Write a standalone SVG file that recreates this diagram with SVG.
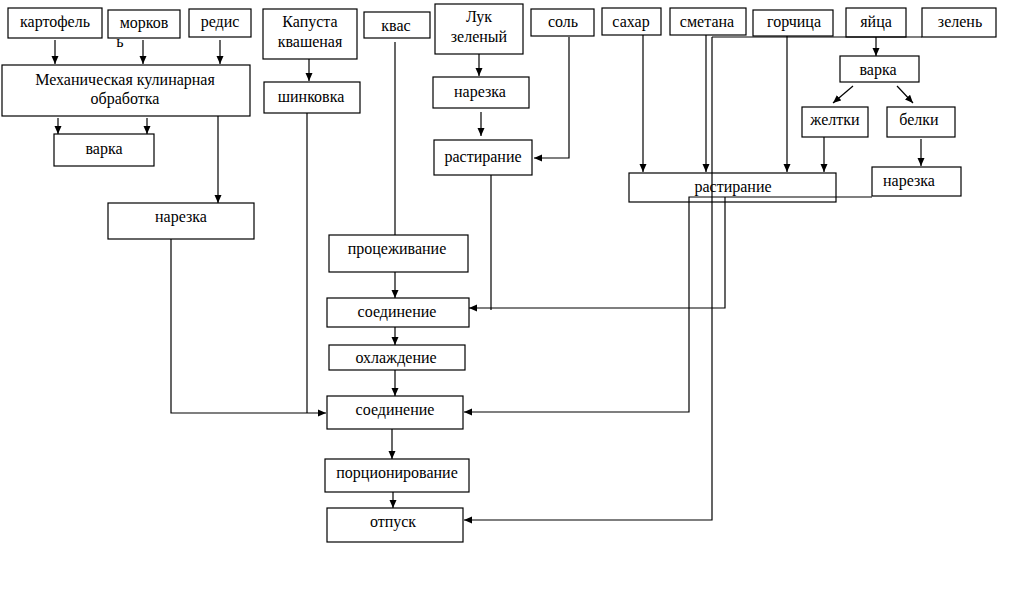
<svg xmlns="http://www.w3.org/2000/svg" width="1011" height="606" viewBox="0 0 1011 606">
<style>
.b{fill:#fff;stroke:#000;stroke-width:1.2}
.t{font-family:"Liberation Serif","Times New Roman","DejaVu Serif",serif;font-size:16px;fill:#000;text-anchor:middle}
.c{fill:none;stroke:#000;stroke-width:1.2}
.a{marker-end:url(#ar)}
</style>
<defs>
<marker id="ar" markerWidth="8" markerHeight="8" refX="8" refY="4" orient="auto" markerUnits="userSpaceOnUse">
<path d="M0,0.5 L8,4 L0,7.5 Z" fill="#000"/>
</marker>
</defs>
<rect width="1011" height="606" fill="#fff"/>
<g id="kartofel"><rect class="b" x="8" y="8" width="94" height="30"/><text class="t" x="55" y="27">картофель</text></g>
<g id="morkov"><rect class="b" x="108" y="10" width="72" height="28"/><text class="t" x="144" y="28">морков</text><text class="t" x="120" y="47">ь</text></g>
<g id="redis"><rect class="b" x="189" y="9" width="62" height="28"/><text class="t" x="220" y="27">редис</text></g>
<g id="mech"><rect class="b" x="2" y="65" width="248" height="51"/><text class="t" x="125" y="85">Механическая кулинарная</text><text class="t" x="125" y="104">обработка</text></g>
<g id="varka1"><rect class="b" x="54" y="134" width="100" height="32"/><text class="t" x="104" y="154">варка</text></g>
<g id="narezka1"><rect class="b" x="108" y="203" width="146" height="36"/><text class="t" x="181" y="222">нарезка</text></g>
<g id="kapusta"><rect class="b" x="263" y="9" width="94" height="50"/><text class="t" x="310" y="27">Капуста</text><text class="t" x="310" y="47">квашеная</text></g>
<g id="shinkovka"><rect class="b" x="264" y="82" width="96" height="31"/><text class="t" x="311" y="102">шинковка</text></g>
<g id="kvas"><rect class="b" x="364" y="12" width="66" height="26"/><text class="t" x="396" y="31">квас</text></g>
<g id="luk"><rect class="b" x="435" y="4" width="88" height="50"/><text class="t" x="479" y="22">Лук</text><text class="t" x="479" y="42">зеленый</text></g>
<g id="narezka2"><rect class="b" x="433" y="77" width="96" height="31"/><text class="t" x="480" y="97">нарезка</text></g>
<g id="rastiranie1"><rect class="b" x="434" y="140" width="98" height="35"/><text class="t" x="483" y="162">растирание</text></g>
<g id="sol"><rect class="b" x="531" y="9" width="63" height="27"/><text class="t" x="563" y="27">соль</text></g>
<g id="sahar"><rect class="b" x="602" y="8" width="59" height="27"/><text class="t" x="631" y="27">сахар</text></g>
<g id="smetana"><rect class="b" x="670" y="8" width="76" height="27"/><text class="t" x="707" y="27">сметана</text></g>
<g id="gorchica"><rect class="b" x="753" y="10" width="80" height="26"/><text class="t" x="794" y="27">горчица</text></g>
<g id="yaica"><rect class="b" x="846" y="8" width="60" height="29"/><text class="t" x="876" y="27">яйца</text></g>
<g id="zelen"><rect class="b" x="922" y="8" width="74" height="29"/><text class="t" x="960" y="27">зелень</text></g>
<g id="varka2"><rect class="b" x="840" y="56" width="79" height="26"/><text class="t" x="878" y="75">варка</text></g>
<g id="zheltki"><rect class="b" x="802" y="107" width="66" height="30"/><text class="t" x="835" y="125">желтки</text></g>
<g id="belki"><rect class="b" x="887" y="107" width="68" height="30"/><text class="t" x="919" y="125">белки</text></g>
<g id="narezka3"><rect class="b" x="872" y="167" width="89" height="29"/><text class="t" x="909" y="186">нарезка</text></g>
<g id="rastiranie2"><rect class="b" x="629" y="173" width="207" height="29"/><text class="t" x="733" y="192">растирание</text></g>
<g id="procezhivanie"><rect class="b" x="329" y="235" width="139" height="37"/><text class="t" x="397" y="254">процеживание</text></g>
<g id="soedinenie1"><rect class="b" x="327" y="298" width="142" height="29"/><text class="t" x="397" y="317">соединение</text></g>
<g id="ohlazhdenie"><rect class="b" x="329" y="345" width="136" height="25"/><text class="t" x="396" y="363">охлаждение</text></g>
<g id="soedinenie2"><rect class="b" x="327" y="396" width="136" height="33"/><text class="t" x="395" y="415">соединение</text></g>
<g id="porcionirovanie"><rect class="b" x="325" y="459" width="144" height="33"/><text class="t" x="397" y="478">порционирование</text></g>
<g id="otpusk"><rect class="b" x="327" y="508" width="136" height="34"/><text class="t" x="393" y="527">отпуск</text></g>
<g id="connectors">
<path class="c a" d="M55,40 V64"/>
<path class="c a" d="M143,40 V64"/>
<path class="c a" d="M220,40 V64"/>
<path class="c a" d="M58,118 V134"/>
<path class="c a" d="M147,118 V134"/>
<path class="c a" d="M218,116 V203"/>
<path class="c a" d="M171,239 V413 H326"/>
<path class="c" d="M307,113 V413"/>
<path class="c a" d="M309,59 V81"/>
<path class="c" d="M395,42 V235"/>
<path class="c a" d="M395,272 V298"/>
<path class="c a" d="M395,327 V345"/>
<path class="c a" d="M395,370 V396"/>
<path class="c a" d="M392,429 V459"/>
<path class="c a" d="M393,492 V508"/>
<path class="c a" d="M479,54 V76"/>
<path class="c a" d="M481,112 V136"/>
<path class="c a" d="M569,37 V158 H534"/>
<path class="c" d="M491,175 V310"/>
<path class="c a" d="M643,35 V172"/>
<path class="c a" d="M706,35 V172"/>
<path class="c a" d="M787,36 V172"/>
<path class="c a" d="M824,137 V172"/>
<path class="c a" d="M921,139 V166"/>
<path class="c a" d="M876,37 V56"/>
<path class="c a" d="M853,86 L833,103"/>
<path class="c a" d="M897,86 L913,103"/>
<path class="c" d="M712,37 H922"/>
<path class="c a" d="M712,37 V520 H464"/>
<path class="c a" d="M872,197 H689 V412 H464"/>
<path class="c a" d="M725,197 V308 H469"/>
</g>
</svg>
